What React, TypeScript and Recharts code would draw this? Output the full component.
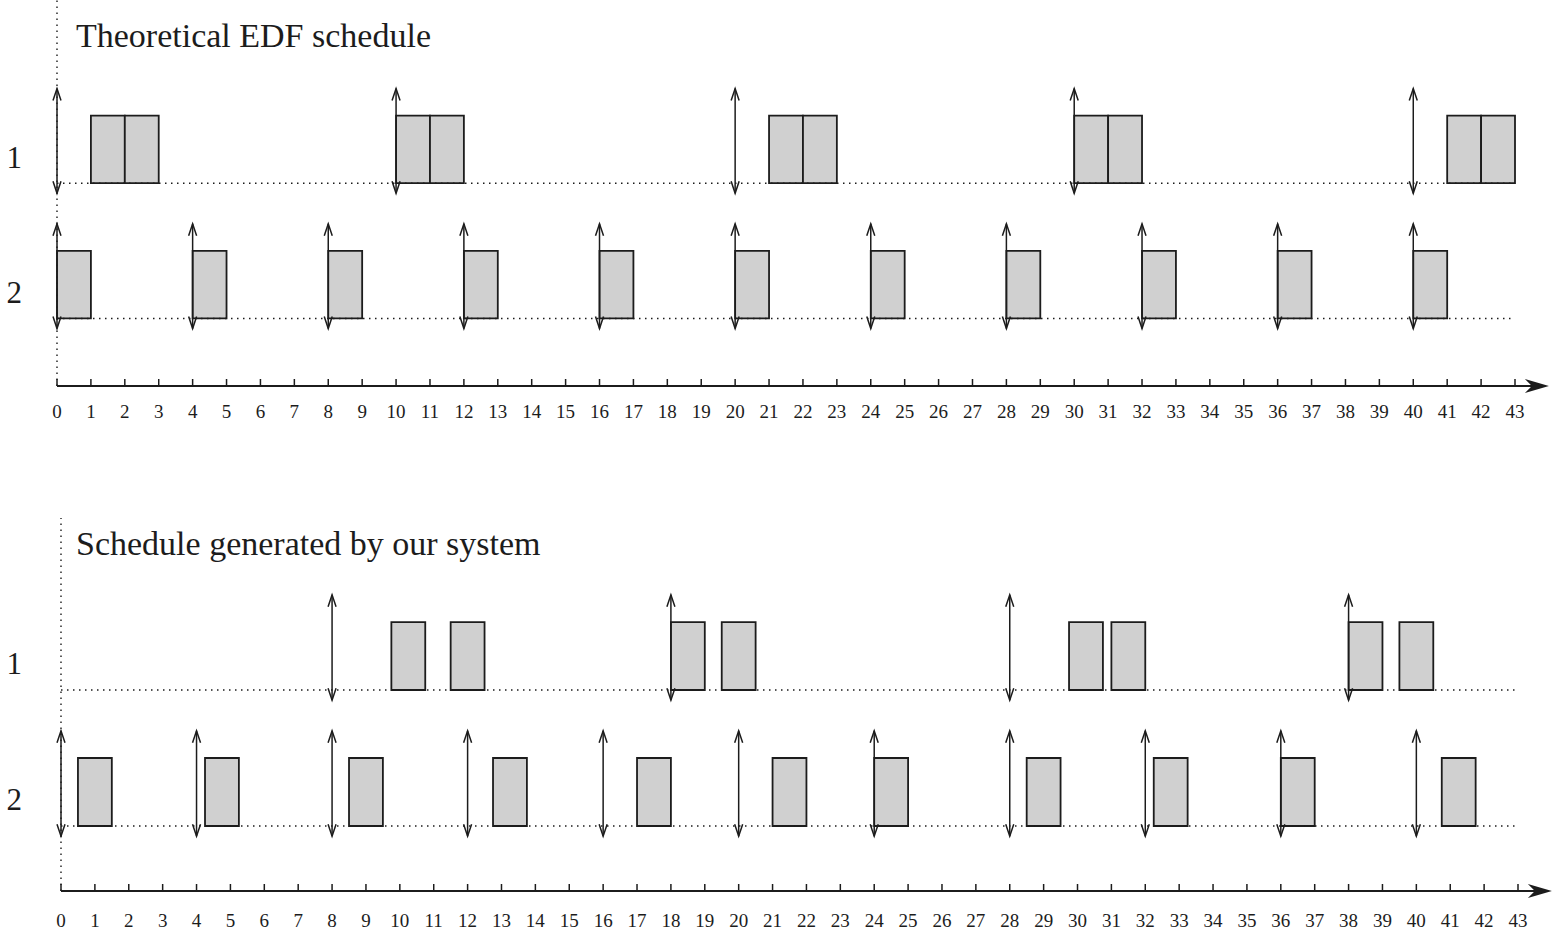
import React from "react";
import { ComposedChart, ReferenceArea, ReferenceLine, XAxis, YAxis } from "recharts";

const W = 1553;
const H = 938;
const INK = "#1c1c1c";
const BOX = "#d0d0d0";
const SERIF = "'Liberation Serif', 'Times New Roman', serif";

// time axis, 0..43
const timeTicks = [
  0, 1, 2, 3, 4, 5, 6, 7, 8, 9, 10, 11, 12, 13, 14, 15, 16, 17, 18, 19, 20, 21,
  22, 23, 24, 25, 26, 27, 28, 29, 30, 31, 32, 33, 34, 35, 36, 37, 38, 39, 40, 41, 42, 43
];

// tasks: label and the level of its baseline (task 1 on top)
const taskLabels = ["1", "2"];
const taskBase = [3, 1];

// theoretical EDF schedule
const edfReleases1 = [0, 10, 20, 30, 40];
const edfReleases2 = [0, 4, 8, 12, 16, 20, 24, 28, 32, 36, 40];
const edfJobs1 = [
  [1, 2], [2, 3], [10, 11], [11, 12], [21, 22], [22, 23], [30, 31], [31, 32], [41, 42], [42, 43]
];
const edfJobs2 = [
  [0, 1], [4, 5], [8, 9], [12, 13], [16, 17], [20, 21], [24, 25], [28, 29], [32, 33], [36, 37], [40, 41]
];

// schedule generated by our system
const sysReleases1 = [8, 18, 28, 38];
const sysReleases2 = [0, 4, 8, 12, 16, 20, 24, 28, 32, 36, 40];
const sysJobs1 = [
  [9.75, 10.75], [11.5, 12.5], [18, 19], [19.5, 20.5], [29.75, 30.75], [31, 32], [38, 39], [39.5, 40.5]
];
const sysJobs2 = [
  [0.5, 1.5], [4.25, 5.25], [8.5, 9.5], [12.75, 13.75], [17, 18], [21, 22], [24, 25],
  [28.5, 29.5], [32.25, 33.25], [36, 37], [40.75, 41.75]
];

const tickData = timeTicks.map((t) => ({ t }));

function ReleaseArrow(p: any) {
  const x = p.x1;
  const top = Math.min(p.y1, p.y2);
  const bot = Math.max(p.y1, p.y2);
  return (
    <g stroke={INK} strokeWidth={1.5} fill="none">
      <line x1={x} y1={top} x2={x} y2={bot} />
      <polyline points={`${x - 4},${top + 12} ${x},${top} ${x + 4},${top + 12}`} />
      <polyline points={`${x - 4},${bot - 12} ${x},${bot} ${x + 4},${bot - 12}`} />
    </g>
  );
}

function AxisArrow(p: any) {
  const { x1, y1, x2 } = p;
  return (
    <g>
      <line x1={x1} y1={y1} x2={x2 - 10} y2={y1} stroke={INK} strokeWidth={2} />
      <path
        d={`M${x2},${y1} L${x2 - 24},${y1 - 7} L${x2 - 17},${y1} L${x2 - 24},${y1 + 7} Z`}
        fill={INK}
      />
    </g>
  );
}

function TimeTick(p: any) {
  return (
    <text x={p.x} y={p.y} dy="0.71em" textAnchor="middle" fontSize={19} fontFamily={SERIF} fill={INK}>
      {p.payload.value}
    </text>
  );
}

function RowTick(p: any) {
  const idx = taskBase.findIndex((b) => Math.abs(b + 0.39 - p.payload.value) < 1e-6);
  return (
    <text x={p.x} y={p.y} dy="0.35em" textAnchor="end" fontSize={31} fontFamily={SERIF} fill={INK}>
      {taskLabels[idx]}
    </text>
  );
}

type PanelProps = {
  title: string;
  releases: number[][];
  jobs: number[][][];
  top: number;
  height: number;
  yAxisWidth: number;
  margin: { top: number; right: number; bottom: number; left: number };
  yDomain: [number, number];
  axisLevel: number;
  labelGap: number;
  titleTop: number;
};

function SchedulePanel(props: PanelProps) {
  const { title, releases, jobs, top, height, yAxisWidth, margin, yDomain, axisLevel, labelGap, titleTop } = props;
  return (
    <div style={{ position: "absolute", left: 0, top, width: W, height }}>
      <ComposedChart width={W} height={height} margin={margin} data={tickData}>
        <XAxis
          type="number"
          dataKey="t"
          domain={[0, 43]}
          allowDataOverflow
          ticks={timeTicks}
          interval={0}
          axisLine={false}
          tickSize={-7}
          tickMargin={labelGap}
          tickLine={{ stroke: INK, strokeWidth: 1.5 }}
          tick={TimeTick}
        />
        <YAxis
          type="number"
          domain={yDomain}
          allowDataOverflow
          width={yAxisWidth}
          axisLine={false}
          tickLine={false}
          tickSize={0}
          tickMargin={yAxisWidth - 22}
          ticks={taskBase.map((b) => b + 0.39)}
          tick={RowTick}
        />
        <ReferenceLine x={0} stroke={INK} strokeWidth={1.4} strokeDasharray="1.5 4.5" />
        {taskBase.map((b, i) => (
          <ReferenceLine
            key={`base-${i}`}
            segment={[{ x: 0, y: b }, { x: 43, y: b }]}
            stroke={INK}
            strokeWidth={1.5}
            strokeDasharray="1.5 4.5"
          />
        ))}
        {jobs.map((list, i) =>
          list.map(([s, e], j) => (
            <ReferenceArea
              key={`job-${i}-${j}`}
              x1={s}
              x2={e}
              y1={taskBase[i]}
              y2={taskBase[i] + 1}
              fill={BOX}
              fillOpacity={1}
              stroke={INK}
              strokeWidth={1.8}
            />
          ))
        )}
        {releases.map((list, i) =>
          list.map((r, j) => (
            <ReferenceLine
              key={`rel-${i}-${j}`}
              segment={[{ x: r, y: taskBase[i] - 0.15 }, { x: r, y: taskBase[i] + 1.4 }]}
              shape={ReleaseArrow}
            />
          ))
        )}
        <ReferenceLine
          segment={[{ x: 0, y: axisLevel }, { x: 44, y: axisLevel }]}
          ifOverflow="visible"
          shape={AxisArrow}
        />
      </ComposedChart>
      <div
        style={{
          position: "absolute",
          left: 76,
          top: titleTop,
          fontFamily: SERIF,
          fontSize: 34,
          lineHeight: "34px",
          color: INK,
          whiteSpace: "nowrap"
        }}
      >
        {title}
      </div>
    </div>
  );
}

export default function App() {
  return (
    <div style={{ position: "fixed", left: 0, top: 0, width: W, height: H, background: "#fff" }}>
      <SchedulePanel
        title="Theoretical EDF schedule"
        releases={[edfReleases1, edfReleases2]}
        jobs={[edfJobs1, edfJobs2]}
        top={0}
        height={430}
        yAxisWidth={57}
        margin={{ top: 0, right: 38, bottom: 14, left: 0 }}
        yDomain={[0, 5.71]}
        axisLevel={0}
        labelGap={26}
        titleTop={18.5}
      />
      <SchedulePanel
        title="Schedule generated by our system"
        releases={[sysReleases1, sysReleases2]}
        jobs={[sysJobs1, sysJobs2]}
        top={440}
        height={498}
        yAxisWidth={61}
        margin={{ top: 78, right: 35, bottom: 17, left: 0 }}
        yDomain={[0.044, 5.53]}
        axisLevel={0.044}
        labelGap={30}
        titleTop={86.5}
      />
    </div>
  );
}
